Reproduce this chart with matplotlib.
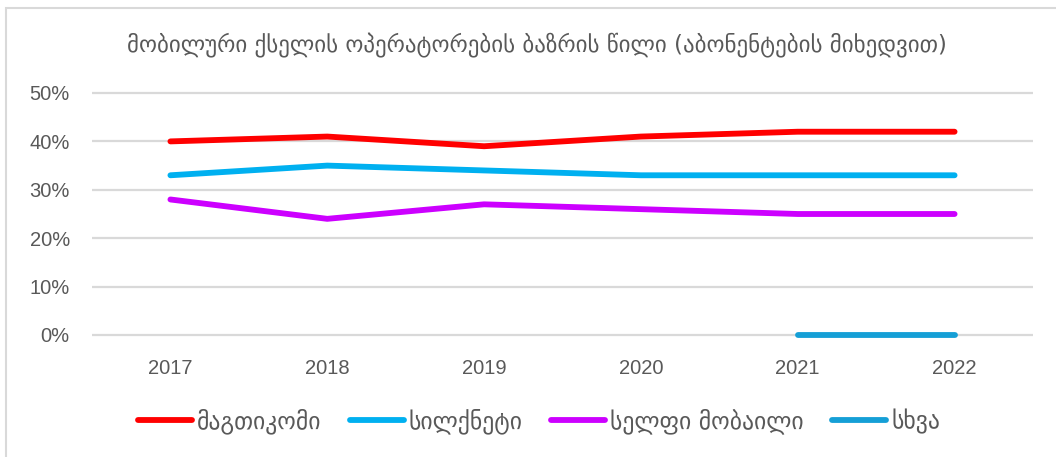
import matplotlib.pyplot as plt
import numpy as np
from matplotlib.patches import Rectangle

years = ['2017', '2018', '2019', '2020', '2021', '2022']
magticom = [0.40, 0.41, 0.39, 0.41, 0.42, 0.42]
silknet = [0.33, 0.35, 0.34, 0.33, 0.33, 0.33]
cellfie = [0.28, 0.24, 0.27, 0.26, 0.25, 0.25]
other = [np.nan, np.nan, np.nan, np.nan, 0.0, 0.0]
names = ['მაგთიკომი', 'სილქნეტი', 'სელფი მობაილი', 'სხვა']
colors = ['#FF0000', '#00B0F0', '#CC00FF', '#159FD6']
title = 'მობილური ქსელის ოპერატორების ბაზრის წილი (აბონენტების მიხედვით)'
yticks = [0, 0.1, 0.2, 0.3, 0.4, 0.5]

W, H = 1056, 457
fig = plt.figure(figsize=(W / 100, H / 100), dpi=100)
fig.patch.set_facecolor('white')

# outer chart border (only top/left visible in the crop)
fig.patches.append(Rectangle((6 / W, -0.2), 1.2, 1.2 - 8 / H, transform=fig.transFigure,
                             fill=False, edgecolor='#D9D9D9', linewidth=1.5))

# axes: x from -0.5..5.5 -> px 92..1033 ; y 0..0.5 -> px 335..93
ypx = 48.4 / 0.1
ylo, yhi = -0.02, 0.52
bot_px = 335 + (0 - ylo) * ypx
top_px = 93 - (yhi - 0.5) * ypx
ax = fig.add_axes([92 / W, 1 - bot_px / H, (1033 - 92) / W, (bot_px - top_px) / H])
ax.set_xlim(-0.5, 5.5)
ax.set_ylim(ylo, yhi)

x = np.arange(len(years))
series = [magticom, silknet, cellfie, other]
for vals, name, c in zip(series, names, colors):
    ax.plot(x, vals, color=c, linewidth=4.2, solid_capstyle='round',
            solid_joinstyle='round', label=name, zorder=3)

ax.set_yticks(yticks)
ax.set_yticklabels([f'{int(round(v * 100))}%' for v in yticks])
ax.set_xticks(x)
ax.set_xticklabels(years)
ax.grid(axis='y', color='#D9D9D9', linewidth=1.6, zorder=0)
ax.set_axisbelow(True)
for s in ax.spines.values():
    s.set_visible(False)
ax.tick_params(axis='both', length=0, labelsize=14.5, labelcolor='#595959')
ax.tick_params(axis='y', pad=16)
ax.tick_params(axis='x', pad=10)
for lbl in ax.get_xticklabels() + ax.get_yticklabels():
    lbl.set_fontfamily(['Liberation Sans', 'DejaVu Sans'])

fig.text(537 / W, 1 - 45 / H, title, ha='center', va='center', fontsize=16.5,
         color='#595959', family=['DejaVu Sans'])

leg = fig.legend(loc='center', bbox_to_anchor=(539 / W, 1 - 421 / H), ncol=4,
                 frameon=False, fontsize=17, handlelength=2.3, handletextpad=0.2,
                 columnspacing=1.2)
for t in leg.get_texts():
    t.set_color('#595959')
    t.set_fontfamily(['DejaVu Sans'])

fig.savefig('out.png', dpi=100)
